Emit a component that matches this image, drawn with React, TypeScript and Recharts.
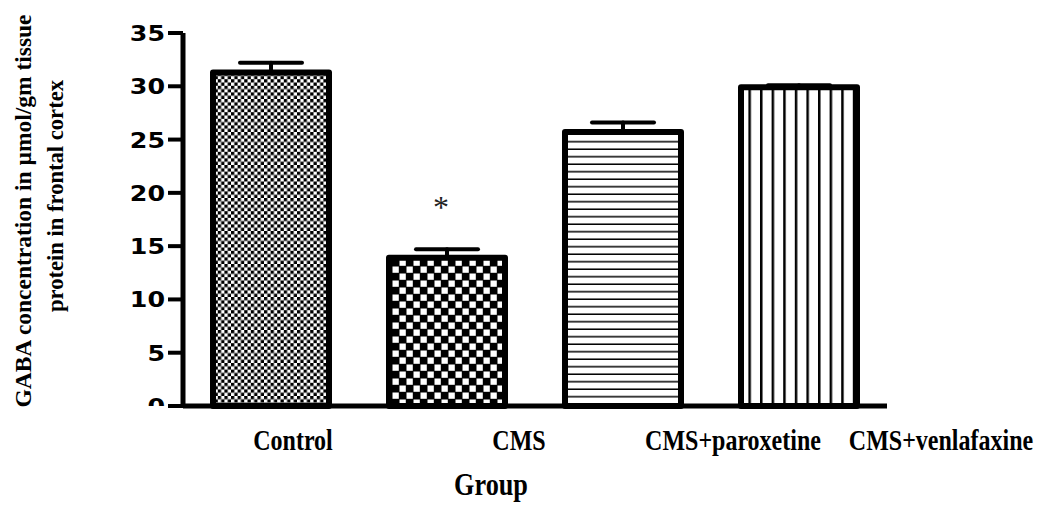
import React from 'react';
import { BarChart, Bar, XAxis, YAxis, Cell, ErrorBar, LabelList } from 'recharts';

const groups = ['Control', 'CMS', 'CMS+paroxetine', 'CMS+venlafaxine'];
const gabaMean = [31.3, 13.9, 25.7, 29.9];
const gabaSem = [0.9, 0.8, 0.9, 0.2];
const significance = ['', '*', '', ''];
const yTicks = [0, 5, 10, 15, 20, 25, 30, 35];

const data = groups.map((g, i) => ({
  group: g,
  mean: gabaMean[i],
  err: [0, gabaSem[i]],
  sig: significance[i],
}));

// label styling: horizontal shift of each category label relative to its band centre
const catLabelShift = [22, 72, 110, 142];

const serif = '"Liberation Serif", "Times New Roman", serif';
const sans = '"DejaVu Sans", "Liberation Sans", Arial, sans-serif';

const XTick = (props: any) => {
  const { x, payload, index } = props;
  const dx = catLabelShift[index] || 0;
  return (
    <text
      transform={`translate(${x + dx},450) scale(0.8,1)`}
      x={0}
      y={0}
      textAnchor="middle"
      fontFamily={serif}
      fontWeight="bold"
      fontSize={30}
      fill="#000"
    >
      {payload.value}
    </text>
  );
};

const YTick = (props: any) => {
  const { x, y, payload } = props;
  const txt = String(payload.value);
  const isZero = payload.value === 0;
  return (
    <g clipPath={isZero ? 'url(#zeroClip)' : undefined}>
      <text
        transform={`translate(${x},${y}) scale(1.15,1)`}
        x={0}
        y={0}
        dy="0.36em"
        textAnchor="end"
        fontFamily={sans}
        fontWeight="bold"
        fontSize={22}
        fill="#000"
      >
        {txt}
      </text>
    </g>
  );
};

const SigLabel = (props: any) => {
  const { x, y, width, value } = props;
  if (!value) return null;
  return (
    <text
      x={x + width / 2 - 6}
      y={y - 40}
      textAnchor="middle"
      fontFamily={serif}
      fontSize={32}
      fill="#222"
    >
      {value}
    </text>
  );
};

const Patterns = () => (
  <svg width={0} height={0} style={{ position: 'absolute' }}>
    <defs>
      <pattern id="pat0" patternUnits="userSpaceOnUse" width={6.6} height={6.6}>
        <rect width={6.6} height={6.6} fill="#fff" />
        <rect x={0} y={0} width={3.3} height={3.3} fill="#000" />
        <rect x={3.3} y={3.3} width={3.3} height={3.3} fill="#000" />
      </pattern>
      <pattern id="pat1" patternUnits="userSpaceOnUse" width={14} height={14}>
        <rect width={14} height={14} fill="#000" />
        <rect x={0.5} y={0.5} width={6.3} height={6.3} fill="#fff" />
        <rect x={7.5} y={7.5} width={6.3} height={6.3} fill="#fff" />
      </pattern>
      <pattern id="pat2" patternUnits="userSpaceOnUse" width={10} height={7.5}>
        <rect width={10} height={7.5} fill="#fff" />
        <rect x={0} y={6} width={10} height={1.7} fill="#000" />
      </pattern>
      <pattern id="pat3" patternUnits="userSpaceOnUse" width={11.6} height={10} x={6}>
        <rect width={11.6} height={10} fill="#fff" />
        <rect x={0} y={0} width={2.5} height={10} fill="#000" />
      </pattern>
    </defs>
  </svg>
);

export default function App() {
  return (
    <div style={{ position: 'absolute', left: 0, top: 0, width: 1040, height: 505, background: '#fff' }}>
      <Patterns />
      <BarChart
        width={1040}
        height={505}
        data={data}
        margin={{ top: 33, right: 153, bottom: 39, left: 83 }}
      >
        <defs>
          <clipPath id="zeroClip">
            <rect x={0} y={0} width={200} height={406} />
          </clipPath>
        </defs>
        <XAxis
          dataKey="group"
          axisLine={{ stroke: '#000', strokeWidth: 5 }}
          tickLine={false}
          tick={<XTick />}
          height={60}
          interval={0}
        />
        <YAxis
          domain={[0, 35]}
          ticks={yTicks}
          interval={0}
          width={100}
          axisLine={{ stroke: '#000', strokeWidth: 5 }}
          tickLine={{ stroke: '#000', strokeWidth: 4 }}
          tickSize={15}
          tickMargin={3}
          tick={<YTick />}
          label={(p: any) => (
            <g>
              <text
                transform="translate(31,211) rotate(-90)"
                textAnchor="middle"
                fontFamily={serif}
                fontWeight="bold"
                fontSize={24}
                fill="#000"
                textLength={393}
                lengthAdjust="spacingAndGlyphs"
              >
                GABA concentration in µmol/gm tissue
              </text>
              <text
                transform="translate(63,196) rotate(-90)"
                textAnchor="middle"
                fontFamily={serif}
                fontWeight="bold"
                fontSize={24}
                fill="#000"
                textLength={232}
                lengthAdjust="spacingAndGlyphs"
              >
                protein in frontal cortex
              </text>
            </g>
          )}
        />
        <Bar
          dataKey="mean"
          barSize={116}
          stroke="#000"
          strokeWidth={6}
          strokeLinejoin="round"
          isAnimationActive={false}
        >
          {data.map((d, i) => (
            <Cell key={d.group} fill={`url(#pat${i})`} />
          ))}
          <ErrorBar
            dataKey="err"
            width={31}
            stroke="#000"
            strokeWidth={4}
            strokeLinecap="round"
            direction="y"
            isAnimationActive={false}
          />
          <LabelList dataKey="sig" content={<SigLabel />} />
        </Bar>
        <text
          transform="translate(491,495) scale(0.82,1)"
          x={0}
          y={0}
          textAnchor="middle"
          fontFamily={serif}
          fontWeight="bold"
          fontSize={32}
          fill="#000"
        >
          Group
        </text>
      </BarChart>
    </div>
  );
}
